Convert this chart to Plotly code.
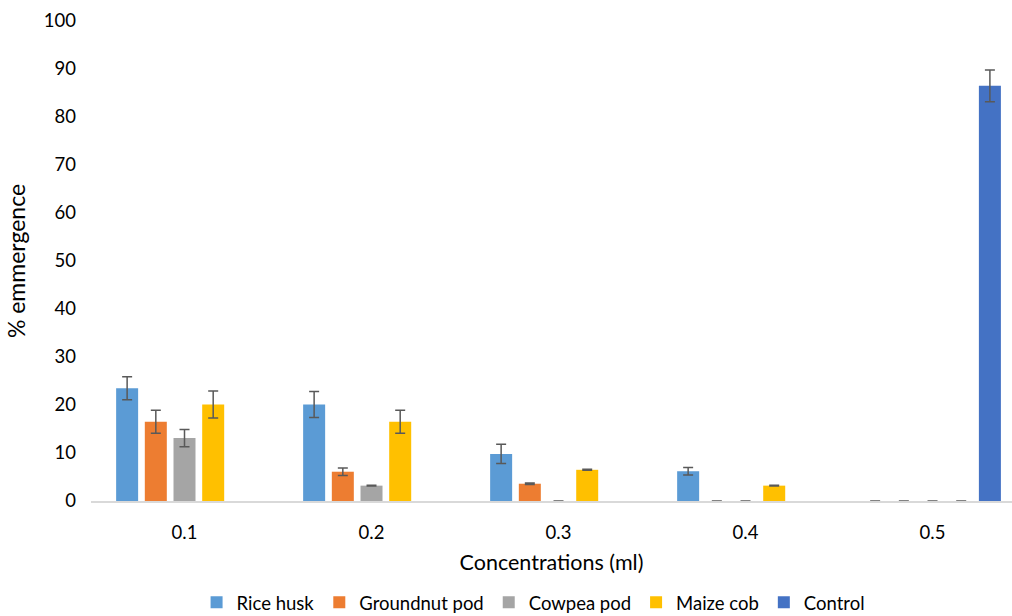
import plotly.graph_objects as go

categories = ["0.1", "0.2", "0.3", "0.4", "0.5"]
series_names = ["Rice husk", "Groundnut pod", "Cowpea pod", "Maize cob", "Control"]
rice_husk = [23.5, 20.1, 9.8, 6.2, 0]
rice_husk_err = [2.4, 2.7, 2.0, 0.8, 0]
groundnut_pod = [16.5, 6.1, 3.6, 0, 0]
groundnut_pod_err = [2.4, 0.8, 0.15, 0, 0]
cowpea_pod = [13.1, 3.2, 0, 0, 0]
cowpea_pod_err = [1.8, 0.1, 0, 0, 0]
maize_cob = [20.1, 16.5, 6.5, 3.2, 0]
maize_cob_err = [2.8, 2.4, 0.1, 0.1, 0]
control = [None, None, None, None, 86.5]
control_err = [None, None, None, None, 3.3]
colors = ["#5B9BD5", "#ED7D31", "#A5A5A5", "#FFC000", "#4472C4"]

values = [rice_husk, groundnut_pod, cowpea_pod, maize_cob, control]
errors = [rice_husk_err, groundnut_pod_err, cowpea_pod_err, maize_cob_err, control_err]

font_family = "Lato, Open Sans, sans-serif"
fig = go.Figure()
for name, vals, errs, col in zip(series_names, values, errors, colors):
    fig.add_trace(go.Bar(
        x=categories, y=vals, name=name,
        marker=dict(color=col, line=dict(width=0)),
        error_y=dict(type="data", array=errs, visible=True,
                     color="#595959", thickness=1.5, width=5),
    ))

fig.update_layout(
    width=1012, height=616,
    margin=dict(l=91, r=0, t=21, b=115, autoexpand=False),
    paper_bgcolor="white", plot_bgcolor="white",
    barmode="group", bargap=0.233, bargroupgap=0.233,
    font=dict(family=font_family, size=18.5, color="#000000"),
    showlegend=True,
    legend=dict(orientation="h", x=0.48, xanchor="center", y=-0.212, yanchor="middle",
                font=dict(size=18.5), itemwidth=30, traceorder="normal"),
)
fig.update_xaxes(
    type="category", range=[-0.5, 4.425],
    showline=True, linecolor="#D9D9D9", linewidth=1.5,
    ticks="", showgrid=False, ticklabelstandoff=14,
    title=dict(text="Concentrations (ml)", standoff=13, font=dict(size=21.5)),
)
fig.update_yaxes(
    range=[0, 100], dtick=10, showline=False, showgrid=False, zeroline=False,
    ticks="", ticklabelstandoff=14,
    title=dict(text="% emmergence", standoff=11, font=dict(size=23)),
)
fig.write_html("out.html")
